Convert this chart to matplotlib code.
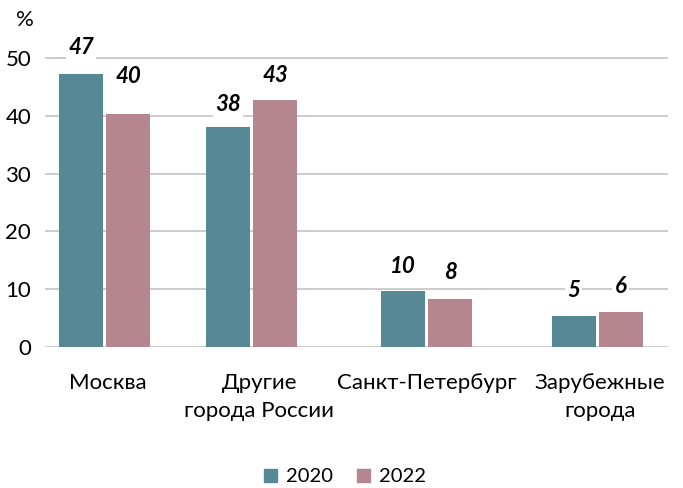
import numpy as np
import matplotlib.pyplot as plt
from matplotlib.patches import Patch

plt.rcParams['font.family'] = ['Lato', 'DejaVu Sans']

categories = ['Москва', 'Другие\nгорода России', 'Санкт-Петербург', 'Зарубежные\nгорода']
years = ['2020', '2022']
vals_2020 = [47.2, 38.1, 9.7, 5.4]
vals_2022 = [40.3, 42.7, 8.3, 6.0]
labels_2020 = ['47', '38', '10', '5']
labels_2022 = ['40', '43', '8', '6']

c2020 = '#578896'
c2022 = '#b68690'

# group centres in pixel-like units of the axes
xc = np.array([104.5, 251.5, 426.5, 597.0])
bw = 44
gap = 3

fig = plt.figure(figsize=(6.83, 4.88), dpi=100)
ax = fig.add_axes([45/683, 141/488, 623/683, 318/488])
ax.set_xlim(45, 668)
ax.set_ylim(0, 55)

for y in range(0, 51, 10):
    ax.axhline(y, color='#c8c8cc', lw=1.3, zorder=0)

ax.bar(xc - bw/2 - gap/2, vals_2020, bw, color=c2020, zorder=2)
ax.bar(xc + bw/2 + gap/2, vals_2022, bw, color=c2022, zorder=2)

fs = 16
lab_off_2020 = [4.6, 3.8, 4.3, 4.4]
lab_off_2022 = [6.5, 4.3, 4.5, 4.4]
for i in range(4):
    ax.text(xc[i] - bw/2 - gap/2, vals_2020[i] + lab_off_2020[i], labels_2020[i],
            ha='center', va='center', fontsize=fs, fontweight='bold', style='italic',
            bbox=dict(boxstyle='square,pad=0.1', fc='white', ec='none'), zorder=3)
    ax.text(xc[i] + bw/2 + gap/2, vals_2022[i] + lab_off_2022[i], labels_2022[i],
            ha='center', va='center', fontsize=fs, fontweight='bold', style='italic',
            bbox=dict(boxstyle='square,pad=0.1', fc='white', ec='none'), zorder=3)

ax.set_yticks(range(0, 51, 10))
ax.tick_params(axis='y', length=0, pad=10, labelsize=fs)
ax.set_xticks(xc + np.array([3, 8, 0, 3]))
ax.set_xticklabels(categories, linespacing=1.45)
ax.tick_params(axis='x', length=0, pad=19, labelsize=fs)
for s in ax.spines.values():
    s.set_visible(False)

fig.text(25/683, 1 - 20/488, '%', ha='center', va='center', fontsize=fs)

handles = [Patch(color=c2020), Patch(color=c2022)]
fig.legend(handles, years, loc='center', bbox_to_anchor=(345/683, 1 - 477/488), ncol=2,
           frameon=False, fontsize=14.5, handlelength=0.62, handleheight=0.62,
           handletextpad=0.45, columnspacing=1.2)

fig.savefig('out.png', dpi=100)
